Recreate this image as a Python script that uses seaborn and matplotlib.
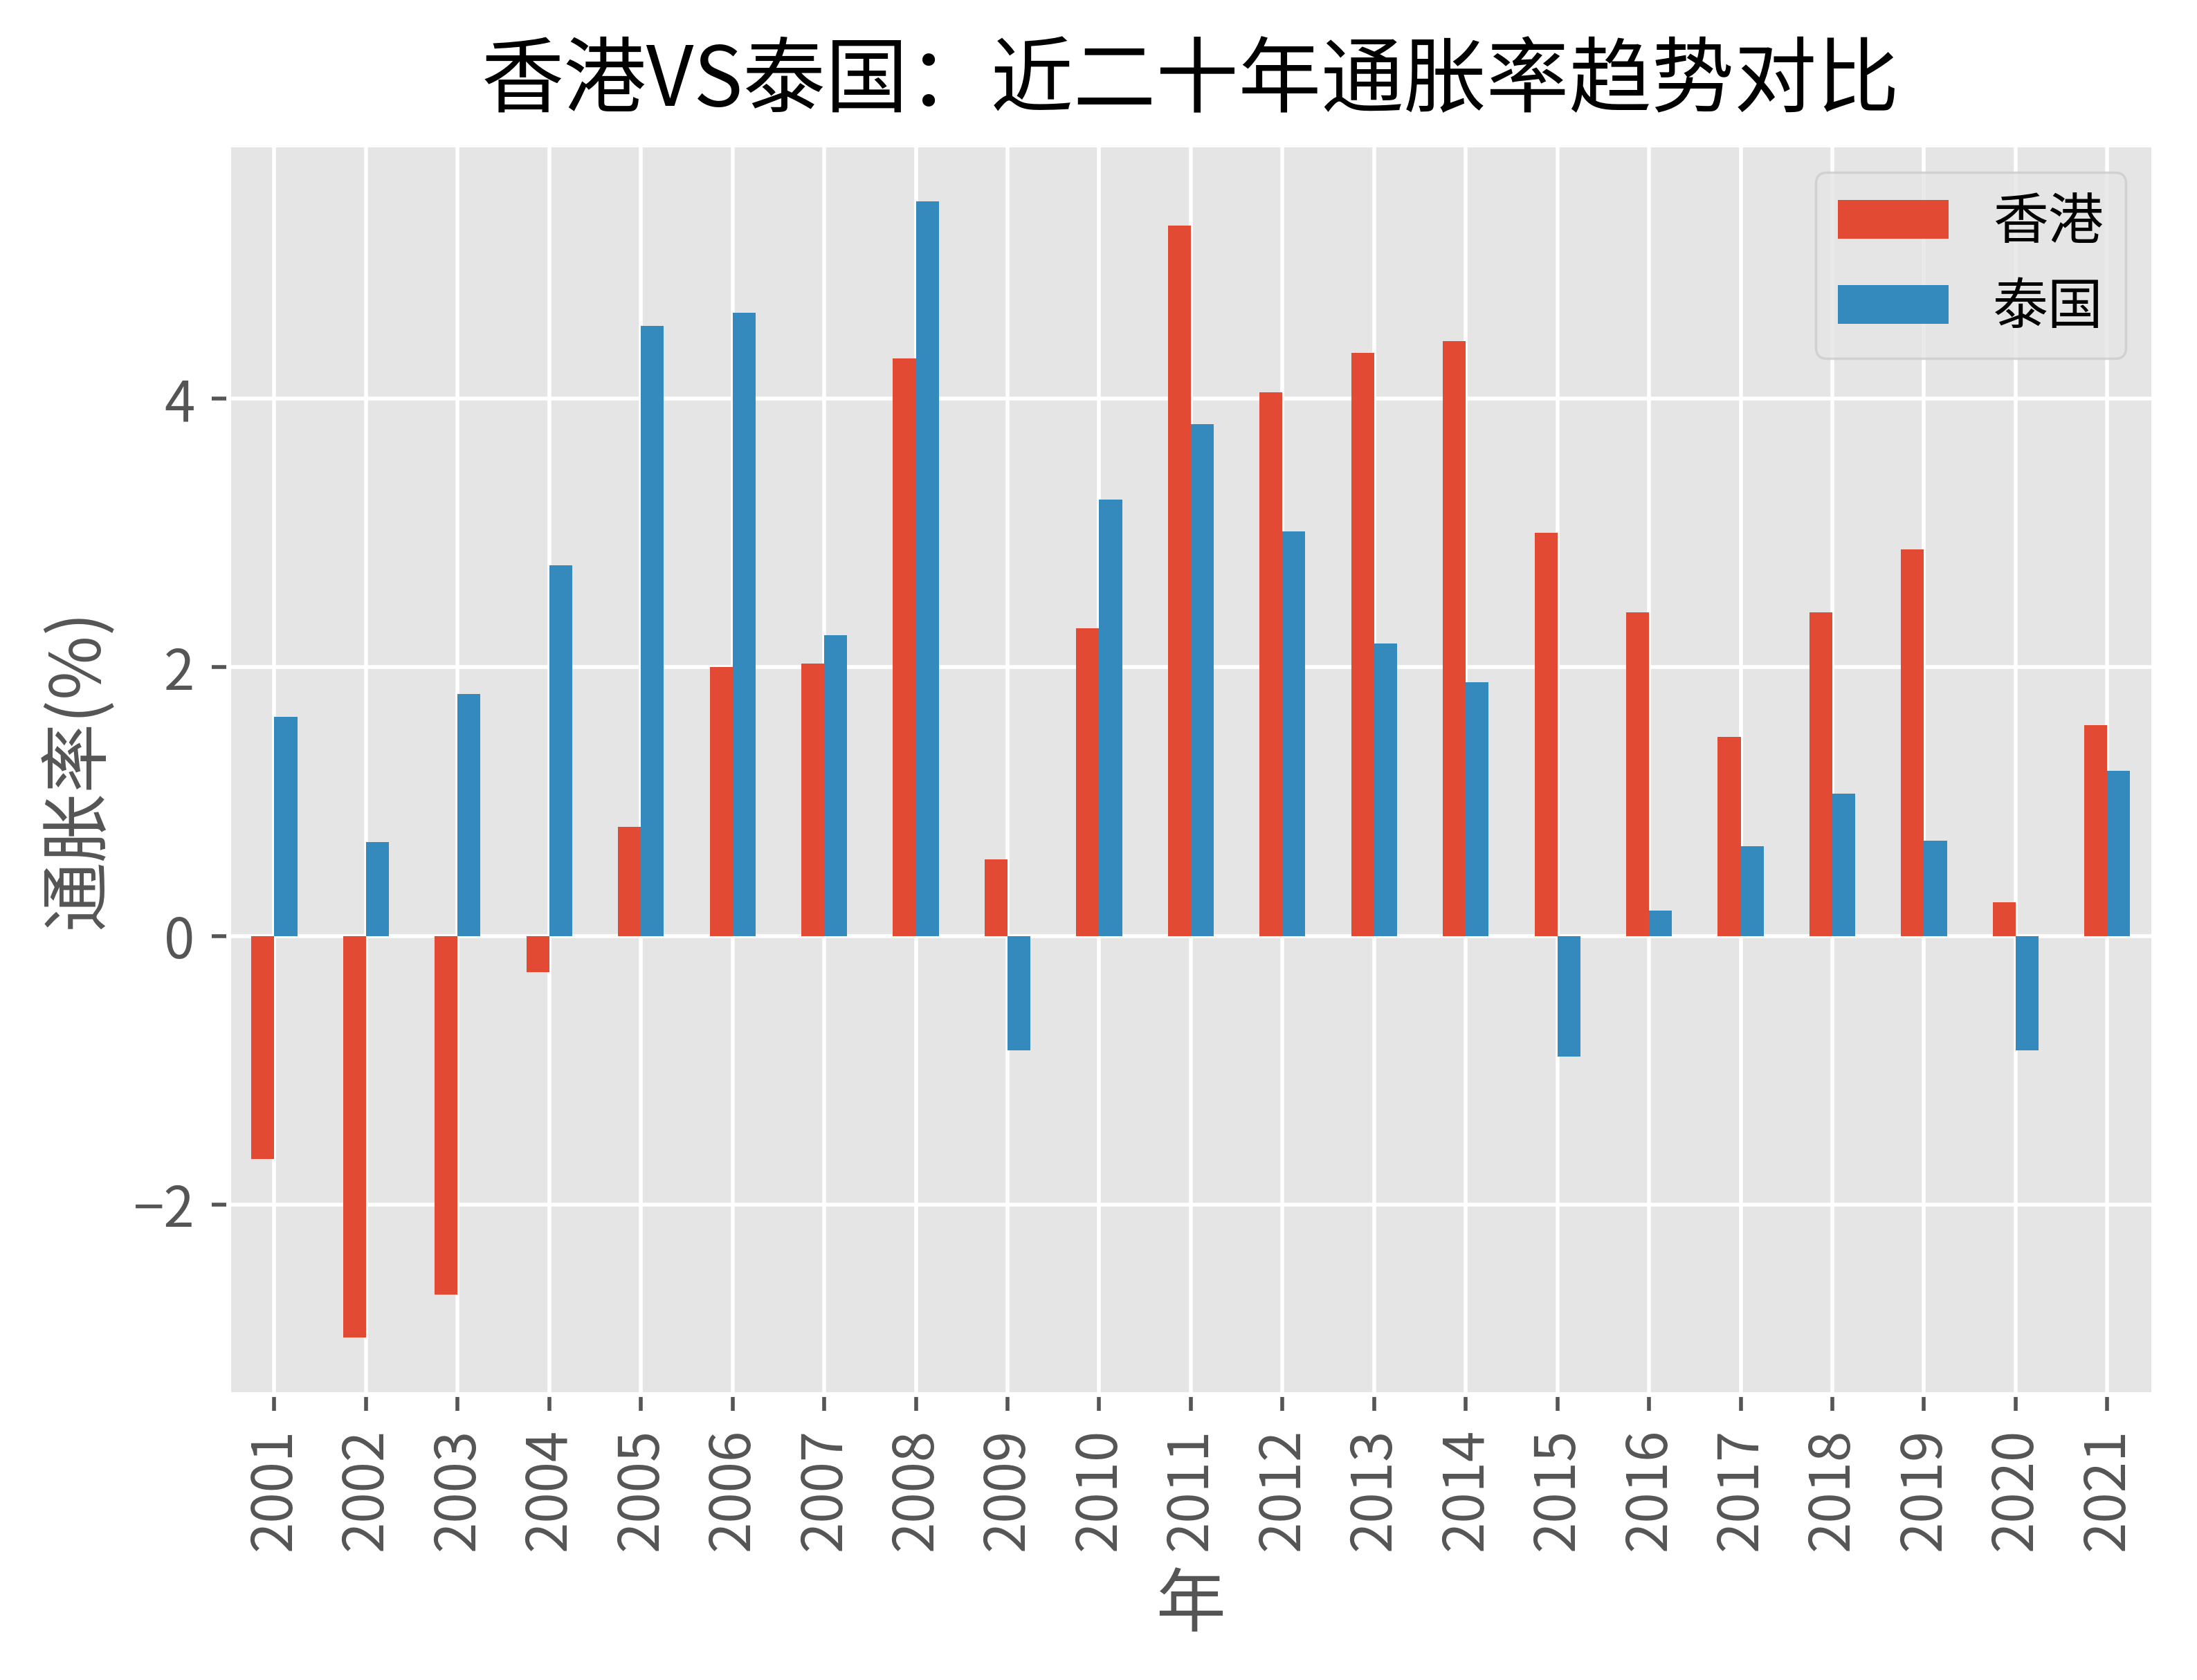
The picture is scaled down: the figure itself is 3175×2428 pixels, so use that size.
import matplotlib
matplotlib.use("Agg")
import matplotlib.pyplot as plt
import seaborn as sns
import pandas as pd

years = [str(y) for y in range(2001, 2022)]
hongkong = [-1.66, -2.99, -2.67, -0.27, 0.81, 2.00, 2.03, 4.30, 0.57, 2.29, 5.29,
            4.05, 4.34, 4.43, 3.00, 2.41, 1.48, 2.41, 2.88, 0.25, 1.57]
thailand = [1.63, 0.70, 1.80, 2.76, 4.54, 4.64, 2.24, 5.47, -0.85, 3.25, 3.81,
            3.01, 2.18, 1.89, -0.90, 0.19, 0.67, 1.06, 0.71, -0.85, 1.23]
series_names = ["香港", "泰国"]
colors = ["#E24A33", "#348ABD"]

plt.style.use("ggplot")
plt.rcParams["font.family"] = ["Noto Sans CJK SC", "DejaVu Sans"]
plt.rcParams["axes.unicode_minus"] = True

df = pd.DataFrame({"年": years * 2,
                   "通胀率": hongkong + thailand,
                   "地区": [series_names[0]] * len(years) + [series_names[1]] * len(years)})

fig, ax = plt.subplots(figsize=(6.35, 4.856), dpi=500)
fig.subplots_adjust(left=0.104, right=0.980, top=0.914, bottom=0.170)

sns.barplot(data=df, x="年", y="通胀率", hue="地区", hue_order=series_names,
            palette=colors, width=0.5, gap=0, saturation=1, errorbar=None, ax=ax)

ax.grid(True, axis="x", color="white")
ax.grid(True, axis="y", color="white")
ax.set_axisbelow(True)
ax.set_xlim(-0.5, len(years) - 0.5)
ax.tick_params(axis="x", labelrotation=90, labelsize=11.5)
ax.tick_params(axis="y", labelsize=11.5)
ax.set_xlabel("年", fontsize=14.5, color="#555555")
ax.set_ylabel("通胀率(%)", fontsize=14.5, color="#555555")
ax.set_title("香港VS泰国：近二十年通胀率趋势对比", fontsize=17.2, color="black", pad=8)

handles, labels = ax.get_legend_handles_labels()
ax.legend(handles, labels, loc="upper right", fontsize=11.5, title=None)

fig.savefig("out.png", dpi=500)
